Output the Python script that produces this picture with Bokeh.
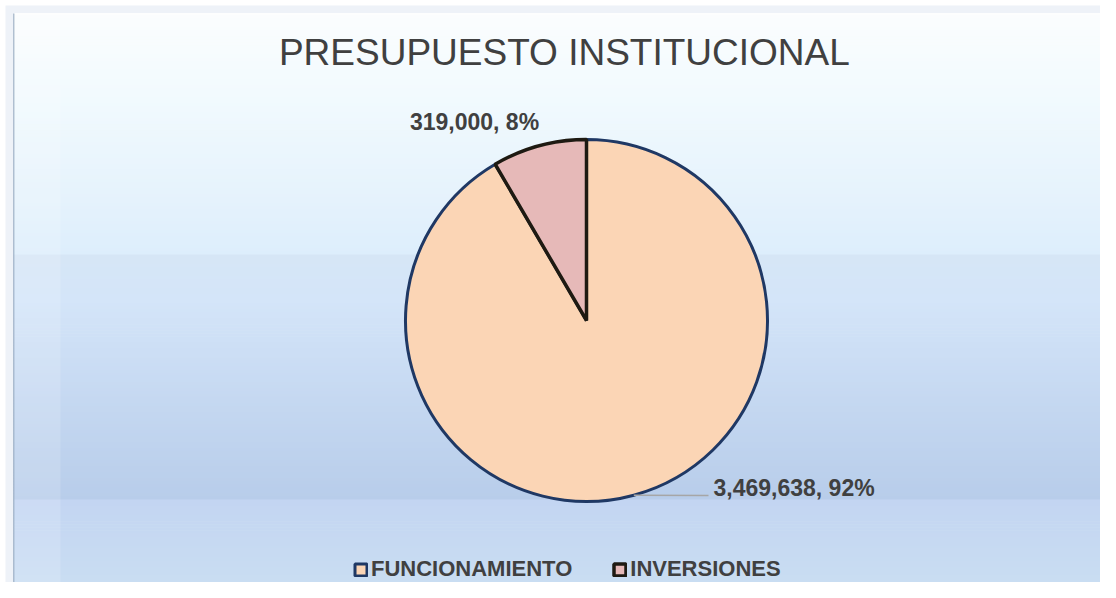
from bokeh.plotting import figure
from bokeh.models import ColumnDataSource, Range1d
from bokeh.embed import file_html
from bokeh.resources import INLINE
from bokeh.core.properties import value
import math

# ---- data ----
categories = ["FUNCIONAMIENTO", "INVERSIONES"]
amounts = [3469638, 319000]
title_text = "PRESUPUESTO  INSTITUCIONAL"

# ---- style ----
fills = ["#FBD5B5", "#E6B9B8"]
outlines = ["#1F3864", "#1E1A12"]
outline_widths = [3.0, 3.5]
TEXT = "#404040"
FONT = "Liberation Sans"

W, H = 1100, 582
CX, CY, R = 586, H - 320, 181
# label anchors relative to pie centre (Excel-like placement)
label_offsets = [(127, -167.5), (-112, 199)]
label_align = ["left", "center"]
leader_end = (122, -175)

total = sum(amounts)
pcts = [a / total for a in amounts]
starts, ends, mids = [], [], []
cum = 0.0
for p_ in pcts:
    s = math.pi / 2 - 2 * math.pi * cum
    cum += p_
    e = math.pi / 2 - 2 * math.pi * cum
    starts.append(s); ends.append(e); mids.append((s + e) / 2)

src = ColumnDataSource(dict(cat=categories, amt=amounts, start=starts, end=ends,
                            fill=fills, line=outlines, lw=outline_widths))

p = figure(width=W, height=H, output_backend="svg", toolbar_location=None,
           x_range=Range1d(0, W), y_range=Range1d(0, H),
           x_axis_location=None, y_axis_location=None, min_border=0,
           outline_line_color=None, background_fill_color="#FFFFFF",
           border_fill_color="#FFFFFF")
p.grid.visible = False

# ---- background (styling) ----
def hx(c):
    return tuple(int(c[i:i + 2], 16) for i in (1, 3, 5))

# outer frame
p.quad(left=5, right=W, bottom=0, top=H - 5, fill_color="#EEF2F8", line_color=None)

stops = [(13, "#FFFFFF"), (15, "#FBFDFE"),
         (100, "#F1FAFE"), (200, "#E5F2FC"), (254, "#DDEEFC"), (255, "#D6E6F6"),
         (300, "#D4E5F9"), (400, "#C5D8F1"), (499, "#B8CDEA"), (500, "#C3D5F2"),
         (582, "#C9DDF2")]
ys0, ys1, cols = [], [], []
for i in range(len(stops) - 1):
    a, ca = stops[i]
    b, cb = stops[i + 1]
    n = max(1, int((b - a) // 3))
    A, B = hx(ca), hx(cb)
    for k in range(n):
        t0 = a + (b - a) * k / n
        t1 = a + (b - a) * (k + 1) / n
        f = (k + 0.5) / n
        c = tuple(round(A[j] + (B[j] - A[j]) * f) for j in range(3))
        ys0.append(H - t1); ys1.append(H - t0 + 0.6)
        cols.append("#%02x%02x%02x" % c)
p.quad(left=13, right=W, bottom=ys0, top=ys1, fill_color=cols, line_color=None)
# edge shading
p.quad(left=[12.5], right=[14], bottom=0, top=H - 13, fill_color="#9FB0C6",
       fill_alpha=0.8, line_color=None)
p.quad(left=[14], right=[60], bottom=0, top=H - 14, fill_color="#FFFFFF",
       fill_alpha=0.15, line_color=None)

# ---- pie ----
p.wedge(x=CX, y=CY, radius=R, start_angle="start", end_angle="end", direction="clock",
        fill_color="fill", line_color="line", line_width="lw", source=src,
        legend_field="cat")

# leader line for the large slice
m = mids[0]
p.line(x=[CX + R * math.cos(m), CX + leader_end[0]],
       y=[CY + R * math.sin(m), CY + leader_end[1]], line_color="#A6A6A6", line_width=1.5)

labels = [f"{a:,}, {round(pc * 100)}%" for a, pc in zip(amounts, pcts)]
for lab, (dx, dy), al in zip(labels, label_offsets, label_align):
    p.text(x=[CX + dx], y=[CY + dy], text=[lab], text_align=al, text_baseline="middle",
           text_font=value(FONT), text_font_size="23px", text_font_style="bold",
           text_color=TEXT)

# ---- title ----
p.text(x=[569], y=[H - 52], text=[title_text], text_align="center", text_baseline="middle",
       text_font=value(FONT), text_font_size="37px", text_color=TEXT)

# ---- legend ----
lg = p.legend[0]
lg.orientation = "horizontal"
lg.location = (353, 0)
lg.glyph_width = 15
lg.glyph_height = 15
lg.label_standoff = 3
lg.spacing = 40
lg.padding = 0
lg.margin = 0
lg.background_fill_alpha = 0
lg.border_line_color = None
lg.label_text_font = FONT
lg.label_text_font_size = "22px"
lg.label_text_font_style = "bold"
lg.label_text_color = TEXT

open("out.html", "w").write(file_html(p, INLINE))
